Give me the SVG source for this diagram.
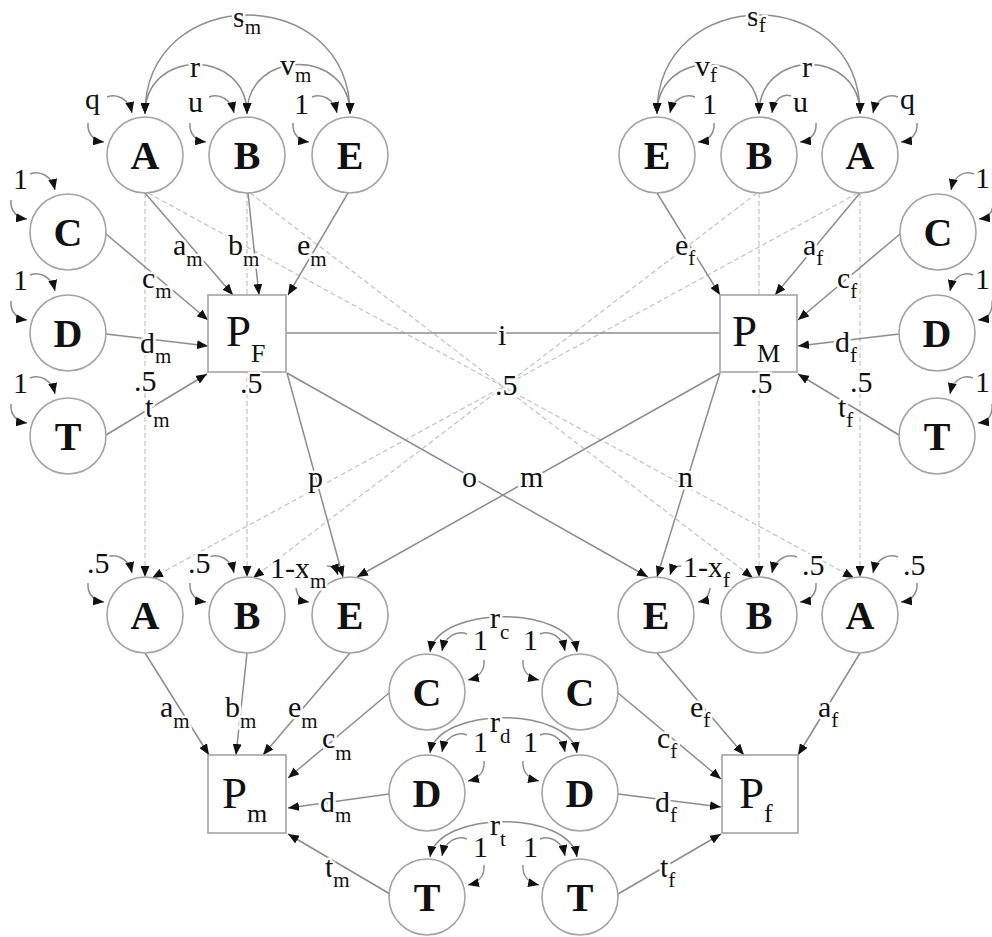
<svg xmlns="http://www.w3.org/2000/svg" width="992" height="937" viewBox="0 0 992 937">
<style>
.bg{fill:#fff}
.n{fill:#fff;stroke:#a3a3a3;stroke-width:1.6}
.e{fill:none;stroke:#8c8c8c;stroke-width:1.5;marker-end:url(#ar)}
.c{fill:none;stroke:#8c8c8c;stroke-width:1.5}
.cv{fill:none;stroke:#8c8c8c;stroke-width:1.5;marker-start:url(#ar);marker-end:url(#ar)}
.d{fill:none;stroke:#c2c2c2;stroke-width:1.2;stroke-dasharray:5 3;marker-end:url(#ar)}
.nt{font-family:"Liberation Serif","DejaVu Serif",serif;font-size:40px;font-weight:bold;fill:#111;text-anchor:middle}
.pt{font-family:"Liberation Serif","DejaVu Serif",serif;font-size:45px;fill:#111}
.ps{font-size:26px}
.l{font-family:"Liberation Serif","DejaVu Serif",serif;font-size:30px;fill:#111;stroke:#fff;stroke-width:5px;stroke-linejoin:round;paint-order:stroke}
.s{font-size:21px}
</style>
<defs>
<marker id="ar" viewBox="0 0 11 9" refX="11" refY="4.5" markerWidth="11" markerHeight="9" markerUnits="userSpaceOnUse" orient="auto-start-reverse">
<path d="M0,0 L11,4.5 L0,9 z" fill="#111"/>
</marker>
</defs>
<rect class="bg" x="0" y="0" width="992" height="937"/>

<g id="connectors">
<path class="d" d="M145,193 L145,577"/>
<path class="d" d="M247,193 L247,577"/>
<path class="d" d="M759,193 L759,577"/>
<path class="d" d="M860,193 L860,577"/>
<path class="d" d="M148,193 L854,578"/>
<path class="d" d="M250,193 L753,578"/>
<path class="d" d="M858,193 L152,578"/>
<path class="d" d="M757,193 L253,578"/>
<path class="cv" d="M145,114 C145,-18 350,-18 350,114"/>
<path class="cv" d="M145,114 C145,48 247,48 247,114"/>
<path class="cv" d="M247,114 C247,48 350,48 350,114"/>
<path class="cv" d="M657,114 C657,-18 860,-18 860,114"/>
<path class="cv" d="M657,114 C657,48 759,48 759,114"/>
<path class="cv" d="M759,114 C759,48 860,48 860,114"/>
<path class="e" d="M107,97 C117,93 129,99 132,113"/><path class="e" d="M88,123 C87,135 95,141 104,142"/>
<path class="e" d="M209,97 C219,93 231,99 234,113"/><path class="e" d="M190,123 C189,135 197,141 206,142"/>
<path class="e" d="M312,97 C322,93 334,99 337,113"/><path class="e" d="M293,123 C292,135 300,141 309,142"/>
<path class="e" d="M30,174 C40,170 52,176 55,190"/><path class="e" d="M11,200 C10,212 18,218 27,219"/>
<path class="e" d="M30,275 C40,271 52,277 55,291"/><path class="e" d="M11,301 C10,313 18,319 27,320"/>
<path class="e" d="M30,378 C40,374 52,380 55,394"/><path class="e" d="M11,404 C10,416 18,422 27,423"/>
<path class="e" d="M695,97 C685,93 673,99 670,113"/><path class="e" d="M714,123 C715,135 707,141 698,142"/>
<path class="e" d="M791,96 C783,93 774,99 772,113"/><path class="e" d="M816,123 C817,135 809,141 800,142"/>
<path class="e" d="M898,97 C888,93 876,99 873,113"/><path class="e" d="M917,123 C918,135 910,141 901,142"/>
<path class="e" d="M974,174 C964,170 954,176 951,190"/><path class="e" d="M993,200 C994,212 988,218 979,219"/>
<path class="e" d="M973,275 C963,271 953,277 950,291"/><path class="e" d="M992,301 C993,313 987,319 978,320"/>
<path class="e" d="M973,378 C963,374 953,380 950,394"/><path class="e" d="M992,404 C993,416 987,422 978,423"/>
<path class="e" d="M145,193 L233,295"/>
<path class="e" d="M248,193 L259,295"/>
<path class="e" d="M348,193 L288,295"/>
<path class="e" d="M106,234 L208,320"/>
<path class="e" d="M106,334 L208,346"/>
<path class="e" d="M106,435 L207,374"/>
<path class="e" d="M657,193 L720,295"/>
<path class="e" d="M860,193 L775,295"/>
<path class="e" d="M900,234 L798,320"/>
<path class="e" d="M899,334 L798,346"/>
<path class="e" d="M899,435 L798,374"/>
<path class="c" d="M286,333 L720,333"/>
<path class="e" d="M287,373 L343,577"/>
<path class="e" d="M287,373 L648,577"/>
<path class="e" d="M720,373 L357,577"/>
<path class="e" d="M720,373 L657,577"/>
<path class="e" d="M107,557 C117,553 129,559 132,573"/><path class="e" d="M88,583 C87,595 95,601 104,602"/>
<path class="e" d="M209,557 C219,553 231,559 234,573"/><path class="e" d="M190,583 C189,595 197,601 206,602"/>
<path class="e" d="M327,566 C332,566 336,569 338,575"/><path class="e" d="M296,588 C297,597 302,601 309,602"/>
<path class="e" d="M681,566 C676,566 672,569 670,575"/><path class="e" d="M710,588 C709,597 704,601 698,602"/>
<path class="e" d="M797,557 C787,553 775,559 772,573"/><path class="e" d="M816,583 C817,595 809,601 800,602"/>
<path class="e" d="M898,557 C888,553 876,559 873,573"/><path class="e" d="M917,583 C918,595 910,601 901,602"/>
<path class="e" d="M145,653 L209,755"/>
<path class="e" d="M247,653 L236,755"/>
<path class="e" d="M350,653 L263,755"/>
<path class="e" d="M389,693 L288,778"/>
<path class="e" d="M389,794 L288,808"/>
<path class="e" d="M390,894 L288,834"/>
<path class="e" d="M657,653 L744,755"/>
<path class="e" d="M860,653 L798,755"/>
<path class="e" d="M618,693 L721,779"/>
<path class="e" d="M618,794 L721,807"/>
<path class="e" d="M618,894 L721,834"/>
<path class="cv" d="M430,652 C438,605 569,605 577,652"/>
<path class="cv" d="M430,753 C438,706 569,706 577,753"/>
<path class="cv" d="M430,857 C438,810 569,810 577,857"/>
<path class="e" d="M467,634 C457,630 445,636 442,651"/><path class="e" d="M484,660 C485,672 477,678 468,680"/>
<path class="e" d="M540,634 C550,630 562,636 565,651"/><path class="e" d="M523,660 C522,672 530,678 539,680"/>
<path class="e" d="M467,735 C457,731 445,737 442,752"/><path class="e" d="M484,761 C485,773 477,779 468,781"/>
<path class="e" d="M540,735 C550,731 562,737 565,752"/><path class="e" d="M523,761 C522,773 530,779 539,781"/>
<path class="e" d="M467,839 C457,835 445,841 442,856"/><path class="e" d="M484,865 C485,877 477,883 468,885"/>
<path class="e" d="M540,839 C550,835 562,841 565,856"/><path class="e" d="M523,865 C522,877 530,883 539,885"/>
</g>

<g id="A_tl"><circle class="n" cx="145" cy="155" r="38"/><text class="nt" x="145" y="169">A</text></g>
<g id="B_tl"><circle class="n" cx="247" cy="155" r="38"/><text class="nt" x="247" y="169">B</text></g>
<g id="E_tl"><circle class="n" cx="350" cy="155" r="38"/><text class="nt" x="350" y="169">E</text></g>
<g id="C_tl"><circle class="n" cx="68" cy="232" r="38"/><text class="nt" x="68" y="246">C</text></g>
<g id="D_tl"><circle class="n" cx="68" cy="333" r="38"/><text class="nt" x="68" y="347">D</text></g>
<g id="T_tl"><circle class="n" cx="68" cy="436" r="38"/><text class="nt" x="68" y="450">T</text></g>
<g id="E_tr"><circle class="n" cx="657" cy="155" r="38"/><text class="nt" x="657" y="169">E</text></g>
<g id="B_tr"><circle class="n" cx="759" cy="155" r="38"/><text class="nt" x="759" y="169">B</text></g>
<g id="A_tr"><circle class="n" cx="860" cy="155" r="38"/><text class="nt" x="860" y="169">A</text></g>
<g id="C_tr"><circle class="n" cx="938" cy="232" r="38"/><text class="nt" x="938" y="246">C</text></g>
<g id="D_tr"><circle class="n" cx="937" cy="333" r="38"/><text class="nt" x="937" y="347">D</text></g>
<g id="T_tr"><circle class="n" cx="937" cy="436" r="38"/><text class="nt" x="937" y="450">T</text></g>
<g id="PF"><rect class="n" x="208" y="295" width="78" height="77"/><text class="pt" x="226" y="346">P<tspan class="ps" dy="16">F</tspan></text></g>
<g id="PM"><rect class="n" x="720" y="295" width="77" height="77"/><text class="pt" x="732" y="346">P<tspan class="ps" dy="16">M</tspan></text></g>
<g id="A_bl"><circle class="n" cx="145" cy="615" r="38"/><text class="nt" x="145" y="629">A</text></g>
<g id="B_bl"><circle class="n" cx="247" cy="615" r="38"/><text class="nt" x="247" y="629">B</text></g>
<g id="E_bl"><circle class="n" cx="350" cy="615" r="38"/><text class="nt" x="350" y="629">E</text></g>
<g id="E_br"><circle class="n" cx="656" cy="615" r="38"/><text class="nt" x="656" y="629">E</text></g>
<g id="B_br"><circle class="n" cx="759" cy="615" r="38"/><text class="nt" x="759" y="629">B</text></g>
<g id="A_br"><circle class="n" cx="860" cy="615" r="38"/><text class="nt" x="860" y="629">A</text></g>
<g id="C_bl"><circle class="n" cx="427" cy="692" r="38"/><text class="nt" x="427" y="706">C</text></g>
<g id="D_bl"><circle class="n" cx="427" cy="793" r="38"/><text class="nt" x="427" y="807">D</text></g>
<g id="T_bl"><circle class="n" cx="427" cy="897" r="38"/><text class="nt" x="427" y="911">T</text></g>
<g id="C_br"><circle class="n" cx="580" cy="692" r="38"/><text class="nt" x="580" y="706">C</text></g>
<g id="D_br"><circle class="n" cx="580" cy="793" r="38"/><text class="nt" x="580" y="807">D</text></g>
<g id="T_br"><circle class="n" cx="580" cy="897" r="38"/><text class="nt" x="580" y="911">T</text></g>
<g id="Pm"><rect class="n" x="208" y="755" width="78" height="78"/><text class="pt" x="222" y="808">P<tspan class="ps" dy="14">m</tspan></text></g>
<g id="Pf"><rect class="n" x="722" y="755" width="76" height="78"/><text class="pt" x="739" y="808">P<tspan class="ps" dy="14">f</tspan></text></g>

<g id="labels">
<text class="l" x="233" y="27">s<tspan class="s" dy="7">m</tspan></text>
<text class="l" x="190" y="77">r</text>
<text class="l" x="280" y="75">v<tspan class="s" dy="7">m</tspan></text>
<text class="l" x="85" y="109">q</text>
<text class="l" x="188" y="112">u</text>
<text class="l" x="294" y="114">1</text>
<text class="l" x="13" y="189">1</text>
<text class="l" x="13" y="290">1</text>
<text class="l" x="13" y="393">1</text>
<text class="l" x="173" y="255">a<tspan class="s" dy="11">m</tspan></text>
<text class="l" x="228" y="255">b<tspan class="s" dy="11">m</tspan></text>
<text class="l" x="297" y="255">e<tspan class="s" dy="11">m</tspan></text>
<text class="l" x="142" y="288">c<tspan class="s" dy="10">m</tspan></text>
<text class="l" x="140" y="353">d<tspan class="s" dy="10">m</tspan></text>
<text class="l" x="134" y="391">.5</text>
<text class="l" x="145" y="417">t<tspan class="s" dy="10">m</tspan></text>
<text class="l" x="240" y="393">.5</text>

<text class="l" x="498" y="345">i</text>
<text class="l" x="495" y="395">.5</text>
<text class="l" x="308" y="487">p</text>
<text class="l" x="462" y="487">o</text>
<text class="l" x="520" y="487">m</text>
<text class="l" x="678" y="487">n</text>

<text class="l" x="747" y="26">s<tspan class="s" dy="6">f</tspan></text>
<text class="l" x="695" y="76">v<tspan class="s" dy="6">f</tspan></text>
<text class="l" x="802" y="77">r</text>
<text class="l" x="702" y="114">1</text>
<text class="l" x="793" y="112">u</text>
<text class="l" x="900" y="109">q</text>
<text class="l" x="975" y="188">1</text>
<text class="l" x="975" y="289">1</text>
<text class="l" x="975" y="392">1</text>
<text class="l" x="675" y="255">e<tspan class="s" dy="10">f</tspan></text>
<text class="l" x="803" y="255">a<tspan class="s" dy="10">f</tspan></text>
<text class="l" x="837" y="288">c<tspan class="s" dy="10">f</tspan></text>
<text class="l" x="835" y="352">d<tspan class="s" dy="10">f</tspan></text>
<text class="l" x="750" y="393">.5</text>
<text class="l" x="850" y="392">.5</text>
<text class="l" x="838" y="417">t<tspan class="s" dy="10">f</tspan></text>

<text class="l" x="87" y="573">.5</text>
<text class="l" x="188" y="573">.5</text>
<text class="l" x="270" y="578">1-x<tspan class="s" dy="10">m</tspan></text>
<text class="l" x="683" y="577">1-x<tspan class="s" dy="10">f</tspan></text>
<text class="l" x="802" y="575">.5</text>
<text class="l" x="903" y="575">.5</text>

<text class="l" x="160" y="717">a<tspan class="s" dy="11">m</tspan></text>
<text class="l" x="225" y="717">b<tspan class="s" dy="11">m</tspan></text>
<text class="l" x="288" y="717">e<tspan class="s" dy="11">m</tspan></text>
<text class="l" x="322" y="748">c<tspan class="s" dy="12">m</tspan></text>
<text class="l" x="320" y="812">d<tspan class="s" dy="10">m</tspan></text>
<text class="l" x="325" y="877">t<tspan class="s" dy="10">m</tspan></text>

<text class="l" x="490" y="628">r<tspan class="s" dy="11">c</tspan></text>
<text class="l" x="473" y="650">1</text>
<text class="l" x="523" y="650">1</text>
<text class="l" x="490" y="732">r<tspan class="s" dy="11">d</tspan></text>
<text class="l" x="473" y="752">1</text>
<text class="l" x="523" y="752">1</text>
<text class="l" x="490" y="835">r<tspan class="s" dy="11">t</tspan></text>
<text class="l" x="473" y="857">1</text>
<text class="l" x="523" y="857">1</text>

<text class="l" x="690" y="717">e<tspan class="s" dy="10">f</tspan></text>
<text class="l" x="818" y="717">a<tspan class="s" dy="10">f</tspan></text>
<text class="l" x="657" y="748">c<tspan class="s" dy="10">f</tspan></text>
<text class="l" x="655" y="812">d<tspan class="s" dy="10">f</tspan></text>
<text class="l" x="660" y="877">t<tspan class="s" dy="10">f</tspan></text>
</g>
</svg>
